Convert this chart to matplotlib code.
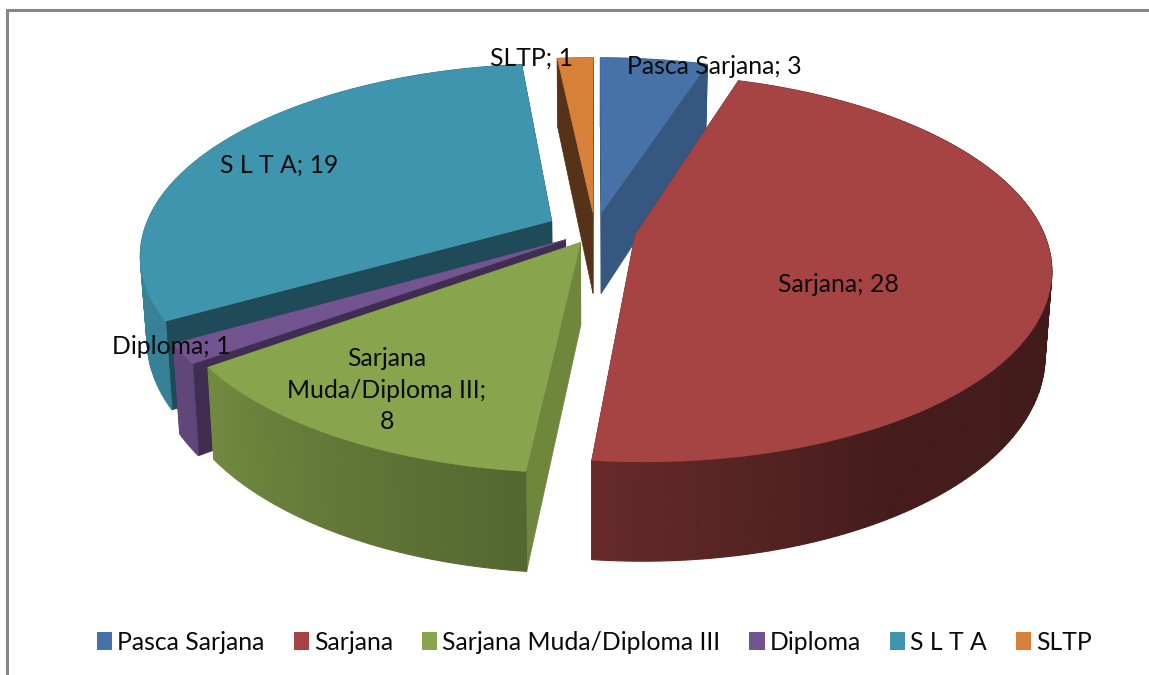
import numpy as np
import matplotlib
matplotlib.use("Agg")
import matplotlib.pyplot as plt
from matplotlib.patches import Patch

categories = ["Pasca Sarjana", "Sarjana", "Sarjana Muda/Diploma III", "Diploma", "S L T A", "SLTP"]
values = [3, 28, 8, 1, 19, 1]
explode = [0.10, 0.10, 0.07, 0.085, 0.12, 0.10]
tops = ["#4672a8", "#a54442", "#88a54d", "#725490", "#4095ae", "#d8813b"]
walls = ["#355780", "#6a2a2a", "#6f873c", "#402e50", "#1f4a58", "#563318"]
label_text = ["Pasca Sarjana; 3", "Sarjana; 28", "Sarjana\nMuda/Diploma III;\n8", "Diploma; 1", "S L T A; 19", "SLTP; 1"]
label_xy = [(714, 66), (838, 284), (387, 390), (171, 347), (279, 165), (532, 58)]

plt.rcParams["font.family"] = ["Lato", "DejaVu Sans"]
FS = 17.8
W, H = 1149, 675
fig = plt.figure(figsize=(W / 100, H / 100), dpi=100)
ax = fig.add_axes([0, 0, 1, 1])
ax.set_xlim(0, W)
ax.set_ylim(H, 0)
ax.axis("off")

xc, yc, Rx, Ry, p, depth, shrink = 595, 231, 408, 187, 0.17, 82, 0.985


def proj(X, Y):
    s = 1 / (1 + p * Y)
    return xc + Rx * X * s, yc - Ry * Y * s, s


def lower(x, y, s):
    return xc + (x - xc) * shrink, y + depth * s


def shade(hexc, f):
    return tuple(np.array(matplotlib.colors.to_rgb(hexc)) * f)


edges = np.concatenate([[0], np.cumsum(values)]) / sum(values) * 360
order = [5, 4, 3, 2, 0, 1]

for i in order:
    a0, a1 = edges[i], edges[i + 1]
    mid = np.radians((a0 + a1) / 2)
    ox, oy = explode[i] * np.sin(mid), explode[i] * np.cos(mid)
    th = np.radians(np.linspace(a0, a1, max(int(a1 - a0), 8)))
    X = np.sin(th) + ox
    Y = np.cos(th) + oy
    rx, ry, rs = proj(X, Y)
    ax_, ay_, as_ = proj(ox, oy)
    bx, by = lower(rx, ry, rs)
    abx, aby = lower(ax_, ay_, as_)
    deg = np.degrees(th)
    f = np.interp((deg[:-1] + deg[1:]) / 2, [0, 90, 150, 186, 240, 300, 360],
                  [0.7, 0.38, 0.42, 0.62, 0.86, 0.9, 0.7])

    def rim(front):
        for j in range(len(th) - 1):
            if (np.cos(th[j]) < 0) == front:
                ax.fill([rx[j], rx[j + 1], bx[j + 1], bx[j]],
                        [ry[j], ry[j + 1], by[j + 1], by[j]],
                        color=shade(tops[i], f[j]), lw=0.8, zorder=1)

    rim(False)
    for k in (0, -1):
        ax.fill([ax_, rx[k], bx[k], abx], [ay_, ry[k], by[k], aby],
                color=walls[i], lw=0.5, zorder=1)
    rim(True)
    ax.fill(np.r_[ax_, rx], np.r_[ay_, ry], color=tops[i], lw=0.3, zorder=1)

for txt, (x, y) in zip(label_text, label_xy):
    ax.text(x, y, txt, ha="center", va="center", fontsize=FS, color="#0a0a0a",
            linespacing=1.43, zorder=5)

ax.plot([7, 7], [9, H], color="#868686", lw=2.2, solid_capstyle="butt", zorder=6)
ax.plot([6, W], [9.5, 9.5], color="#868686", lw=2.2, solid_capstyle="butt", zorder=6)

handles = [Patch(facecolor=c, edgecolor="none", label=n) for c, n in zip(tops, categories)]
ax.legend(handles=handles, ncol=6, frameon=False, fontsize=FS, loc="center left",
          bbox_to_anchor=(97 / W, 1 - 642 / H), handlelength=0.62, handleheight=0.7,
          handletextpad=0.2, columnspacing=1.17, borderpad=0, borderaxespad=0,
          labelcolor="#0a0a0a")

fig.savefig("out.png", dpi=100, facecolor="white")
